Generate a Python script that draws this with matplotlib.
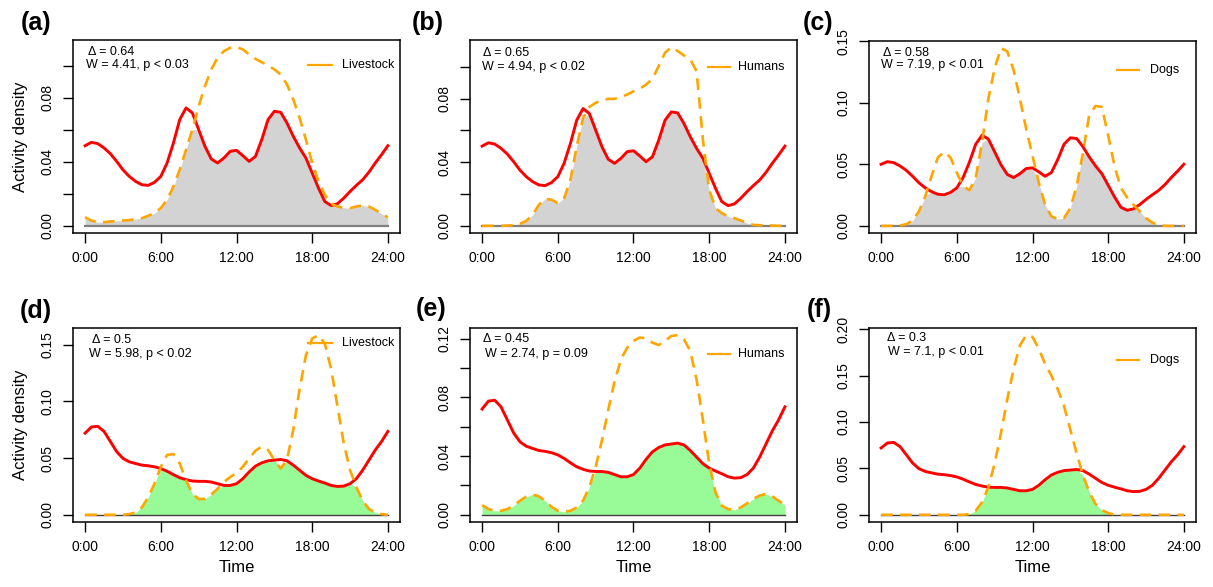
import numpy as np
import matplotlib
matplotlib.use("Agg")
import matplotlib.pyplot as plt

plt.rcParams['font.family'] = ['Liberation Sans', 'DejaVu Sans']

hours = np.arange(0, 24.01, 0.5)
hour_ticks = [0, 6, 12, 18, 24]
hour_labels = ["0:00", "6:00", "12:00", "18:00", "24:00"]

# Focal species (red), top row
red_top = [0.0501, 0.0522, 0.0514, 0.0487, 0.0451, 0.0403, 0.0350, 0.0309, 0.0278, 0.0257,
           0.0253, 0.0272, 0.0309, 0.0393, 0.0518, 0.0664, 0.0737, 0.0706, 0.0602, 0.0497,
           0.0418, 0.0393, 0.0424, 0.0466, 0.0472, 0.0439, 0.0403, 0.0434, 0.0539, 0.0664,
           0.0716, 0.0710, 0.0643, 0.0560, 0.0487, 0.0424, 0.0330, 0.0236, 0.0152, 0.0127,
           0.0138, 0.0173, 0.0215, 0.0253, 0.0288, 0.0336, 0.0393, 0.0445, 0.0501]
# Focal species (red), bottom row
red_bot = [0.0720, 0.0774, 0.0780, 0.0735, 0.0646, 0.0557, 0.0497, 0.0467, 0.0452, 0.0438,
           0.0432, 0.0423, 0.0408, 0.0384, 0.0354, 0.0327, 0.0310, 0.0298, 0.0295, 0.0295,
           0.0289, 0.0274, 0.0259, 0.0259, 0.0274, 0.0318, 0.0378, 0.0429, 0.0458, 0.0476,
           0.0482, 0.0488, 0.0476, 0.0438, 0.0393, 0.0348, 0.0318, 0.0298, 0.0280, 0.0259,
           0.0250, 0.0253, 0.0274, 0.0318, 0.0393, 0.0482, 0.0571, 0.0646, 0.0735]

livestock_a = [0.0054, 0.0033, 0.0023, 0.0023, 0.0027, 0.0031, 0.0033, 0.0036, 0.0042, 0.0048,
               0.0063, 0.0079, 0.0111, 0.0163, 0.0246, 0.0351, 0.0476, 0.0602, 0.0748, 0.0873,
               0.0978, 0.1051, 0.1092, 0.1113, 0.1117, 0.1103, 0.1072, 0.1044, 0.1023, 0.1003,
               0.0978, 0.0946, 0.0884, 0.0790, 0.0675, 0.0539, 0.0393, 0.0278, 0.0194, 0.0138,
               0.0121, 0.0113, 0.0111, 0.0121, 0.0127, 0.0121, 0.0100, 0.0075, 0.0054]
humans_b = [0.0, 0.0, 0.0, 0.0, 0.0002, 0.0004, 0.0013, 0.0031, 0.0069, 0.0132,
            0.0170, 0.0164, 0.0143, 0.0174, 0.0290, 0.0500, 0.0678, 0.0747, 0.0773, 0.0790,
            0.0798, 0.0798, 0.0810, 0.0825, 0.0846, 0.0861, 0.0888, 0.0924, 0.1004, 0.1088,
            0.1123, 0.1098, 0.1071, 0.1046, 0.0972, 0.0542, 0.0227, 0.0111, 0.0080, 0.0059,
            0.0048, 0.0034, 0.0017, 0.0006, 0.0004, 0.0003, 0.0002, 0.0, 0.0]
dogs_c = [0.0, 0.0, 0.0, 0.0003, 0.0014, 0.0044, 0.0118, 0.0241, 0.0405, 0.0556,
          0.0602, 0.0556, 0.0433, 0.0323, 0.0290, 0.0391, 0.0679, 0.1035, 0.1280, 0.1445,
          0.1418, 0.1267, 0.1035, 0.0788, 0.0569, 0.0350, 0.0172, 0.0077, 0.0055, 0.0063,
          0.0145, 0.0323, 0.0597, 0.0903, 0.0975, 0.0966, 0.0734, 0.0487, 0.0310, 0.0230,
          0.0172, 0.0118, 0.0063, 0.0027, 0.0008, 0.0, 0.0, 0.0, 0.0]
livestock_d = [0.0, 0.0, 0.0, 0.0, 0.0, 0.0, 0.0, 0.0006, 0.0021, 0.0065,
               0.0155, 0.0274, 0.0423, 0.0527, 0.0536, 0.0452, 0.0304, 0.0185, 0.0140, 0.0140,
               0.0179, 0.0229, 0.0289, 0.0333, 0.0369, 0.0423, 0.0497, 0.0565, 0.0601, 0.0571,
               0.0482, 0.0408, 0.0482, 0.0750, 0.1107, 0.1405, 0.1554, 0.1583, 0.1509, 0.1286,
               0.0958, 0.0631, 0.0393, 0.0244, 0.0125, 0.0051, 0.0021, 0.0006, 0.0]
humans_e = [0.0066, 0.0039, 0.0027, 0.0027, 0.0039, 0.0062, 0.0096, 0.0124, 0.0137, 0.0126,
            0.0096, 0.0055, 0.0027, 0.0021, 0.0027, 0.0050, 0.0096, 0.0188, 0.0325, 0.0508,
            0.0714, 0.0909, 0.1058, 0.1138, 0.1184, 0.1207, 0.1202, 0.1172, 0.1156, 0.1184,
            0.1218, 0.1223, 0.1195, 0.1115, 0.0921, 0.0646, 0.0348, 0.0153, 0.0062, 0.0039,
            0.0034, 0.0050, 0.0078, 0.0108, 0.0131, 0.0142, 0.0126, 0.0096, 0.0066]
dogs_f = [0.0, 0.0, 0.0, 0.0, 0.0, 0.0, 0.0, 0.0, 0.0, 0.0,
          0.0, 0.0, 0.0, 0.0, 0.0007, 0.0044, 0.0135, 0.0298, 0.0553, 0.0880,
          0.1244, 0.1571, 0.1825, 0.1935, 0.1916, 0.1789, 0.1625, 0.1498, 0.1353, 0.1171,
          0.0916, 0.0662, 0.0425, 0.0244, 0.0116, 0.0051, 0.0018, 0.0004, 0.0,
          0.0, 0.0, 0.0, 0.0, 0.0, 0.0, 0.0, 0.0, 0.0, 0.0]

panel_letters = ["(a)", "(b)", "(c)", "(d)", "(e)", "(f)"]
legend_names = ["Livestock", "Humans", "Dogs", "Livestock", "Humans", "Dogs"]
delta_text = ["Δ = 0.64", "Δ = 0.65", "Δ = 0.58", "Δ = 0.5", "Δ = 0.45", "Δ = 0.3"]
w_text = ["W = 4.41, p < 0.03", "W = 4.94, p < 0.02", "W = 7.19, p < 0.01",
          "W = 5.98, p < 0.02", "W = 2.74, p = 0.09", "W = 7.1, p < 0.01"]
others = [livestock_a, humans_b, dogs_c, livestock_d, humans_e, dogs_f]
reds = [red_top, red_top, red_top, red_bot, red_bot, red_bot]
yticks = [[0, 0.02, 0.04, 0.06, 0.08, 0.10], [0, 0.02, 0.04, 0.06, 0.08, 0.10],
          [0, 0.05, 0.10, 0.15], [0, 0.05, 0.10, 0.15],
          [0, 0.02, 0.04, 0.06, 0.08, 0.10, 0.12], [0, 0.05, 0.10, 0.15, 0.20]]
ylabels = [["0.00", "", "0.04", "", "0.08", ""], ["0.00", "", "0.04", "", "0.08", ""],
           ["0.00", "0.05", "0.10", "0.15"], ["0.00", "0.05", "0.10", "0.15"],
           ["0.00", "", "0.04", "", "0.08", "", "0.12"], ["0.00", "0.05", "0.10", "0.15", "0.20"]]

W, H = 1213, 587
fig = plt.figure(figsize=(W / 100, H / 100), dpi=100)

# axes boxes in pixels: (left, top, right, bottom)
boxes = [(73, 40, 400, 233), (470, 40, 797, 233), (869, 41, 1196, 233),
         (73, 328, 400, 522), (470, 328, 797, 522), (869, 328, 1196, 522)]
letter_pos = [(36, 23), (428, 23), (818, 23), (36, 311), (431, 309), (819, 310)]
delta_pos = [(0.046, 0.938), (0.040, 0.933), (0.043, 0.940),
             (0.058, 0.938), (0.040, 0.943), (0.055, 0.948)]
w_pos = [(0.040, 0.870), (0.037, 0.860), (0.037, 0.875),
         (0.049, 0.866), (0.046, 0.866), (0.058, 0.876)]
leg_pos = [(0.719, 0.792, 0.823, 0.870), (0.728, 0.795, 0.820, 0.860),
           (0.758, 0.826, 0.860, 0.848), (0.719, 0.792, 0.823, 0.923),
           (0.728, 0.795, 0.820, 0.866), (0.758, 0.826, 0.860, 0.835)]

fills = ["#D3D3D3"] * 3 + ["#98FB98"] * 3
base_cols = ["#808080"] * 3 + ["#404040"] * 3
base_lw = [1.6] * 3 + [1.0] * 3

for i in range(6):
    l, t, r, b = boxes[i]
    ax = fig.add_axes([l / W, 1 - b / H, (r - l) / W, (b - t) / H])
    red = np.array(reds[i])
    oth = np.array(others[i])
    overlap = np.minimum(red, oth)
    ax.fill_between(hours, 0, overlap, color=fills[i], lw=0, zorder=1)
    ax.plot([hours[0], hours[-1]], [0, 0], color=base_cols[i], lw=base_lw[i], zorder=2)
    ax.plot(hours, red, color="red", lw=2.1, zorder=3, solid_joinstyle="round")
    ax.plot(hours, oth, color="orange", lw=1.9, dashes=(4.4, 2.8), zorder=4,
            dash_joinstyle="round")
    ymax = max(red.max(), oth.max())
    ax.set_xlim(-0.96, 24.96)
    ax.set_ylim(-0.04 * ymax, 1.04 * ymax)
    ax.set_xticks(hour_ticks)
    ax.set_xticklabels(hour_labels, fontsize=10)
    ax.set_yticks(yticks[i])
    ax.set_yticklabels(ylabels[i], fontsize=10, rotation=90, va="center")
    ax.tick_params(axis="x", length=7, width=1, pad=6, direction="out")
    ax.tick_params(axis="y", length=7, width=1, pad=6, direction="out")
    for s in ax.spines.values():
        s.set_linewidth(1.1)
        s.set_color("black")
    ax.text(delta_pos[i][0], delta_pos[i][1], delta_text[i], transform=ax.transAxes,
            fontsize=9, ha="left", va="center")
    ax.text(w_pos[i][0], w_pos[i][1], w_text[i], transform=ax.transAxes,
            fontsize=9, ha="left", va="center")
    x0, x1, xt, yy = leg_pos[i]
    ax.plot([x0, x1], [yy, yy], transform=ax.transAxes, color="orange", lw=1.6,
            clip_on=False)
    ax.text(xt, yy, legend_names[i], transform=ax.transAxes, fontsize=9,
            ha="left", va="center")
    if i in (0, 3):
        ax.set_ylabel("Activity density", fontsize=12, labelpad=9)
    if i >= 3:
        ax.set_xlabel("Time", fontsize=12, labelpad=4)
    fig.text(letter_pos[i][0] / W, 1 - letter_pos[i][1] / H, panel_letters[i],
             fontsize=18, fontweight="bold", ha="center", va="center")

fig.savefig("out.png", dpi=100)
